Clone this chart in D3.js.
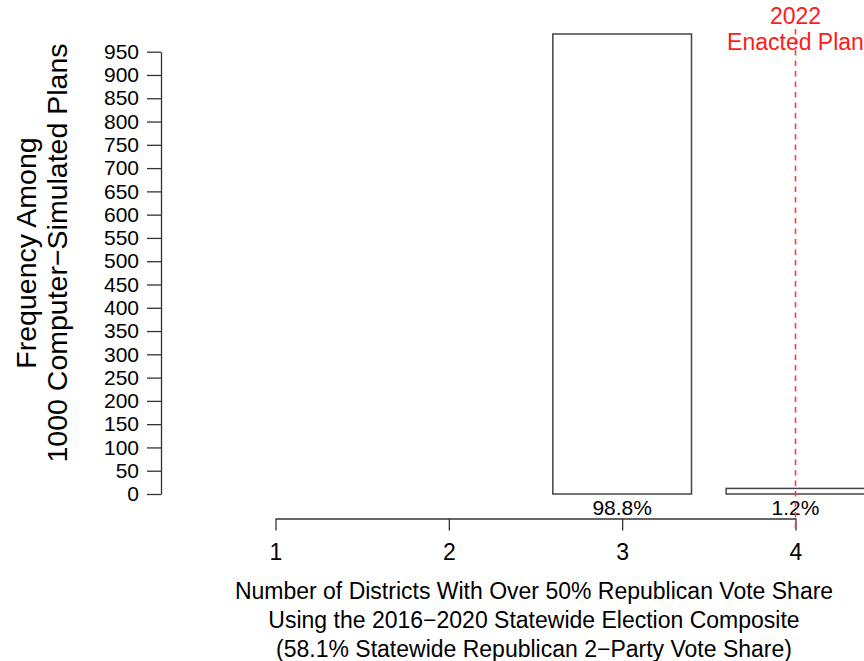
<!DOCTYPE html>
<html>
<head>
<meta charset="utf-8">
<script src="https://cdn.jsdelivr.net/npm/d3@7"></script>
<style>
  body { margin: 0; background: #fff; }
  svg { display: block; font-family: "Liberation Sans", Arial, sans-serif; }
</style>
</head>
<body>
<div id="chartContainer"></div>
<script>
// values
var districts = [1, 2, 3, 4];
var counts = [0, 0, 988, 12];
var totalPlans = 1000;
var yTicks = d3.range(0, 951, 50);
var enactedValue = 4;
var enactedLabel = ["2022", "Enacted Plan"];
var yTitle = ["Frequency Among", "1000 Computer\u2212Simulated Plans"];
var xTitle = [
  "Number of Districts With Over 50% Republican Vote Share",
  "Using the 2016\u22122020 Statewide Election Composite",
  "(58.1% Statewide Republican 2\u2212Party Vote Share)"
];

var WIDTH = 864, HEIGHT = 661;

var svg = d3.select("#chartContainer").append("svg")
  .attr("width", WIDTH)
  .attr("height", HEIGHT);

var xRange = d3.scaleLinear().domain([1, 4]).range([275.5, 795.5]);
var yRange = d3.scaleLinear().domain([0, 950]).range([494, 51.7]);

var bars = districts.map(function (d, i) {
  return { x: d, n: counts[i] };
}).filter(function (d) { return d.n > 0; });

// bars
svg.selectAll("rect.bar")
  .data(bars)
  .enter().append("rect")
  .attr("class", "bar")
  .attr("x", function (d) { return xRange(d.x - 0.4); })
  .attr("y", function (d) { return yRange(d.n); })
  .attr("width", function (d) { return xRange(d.x + 0.4) - xRange(d.x - 0.4); })
  .attr("height", function (d) { return yRange(0) - yRange(d.n); })
  .attr("fill", "#fff")
  .attr("stroke", "#444")
  .attr("stroke-width", 1.5);

// percent labels under bars
svg.selectAll("text.pct")
  .data(bars)
  .enter().append("text")
  .attr("class", "pct")
  .attr("x", function (d) { return xRange(d.x); })
  .attr("y", yRange(0) + 14)
  .attr("dy", "0.32em")
  .attr("text-anchor", "middle")
  .style("font-size", "21px")
  .text(function (d) { return (d.n / totalPlans * 100).toFixed(1) + "%"; });

// y axis
var yAxis = d3.axisLeft(yRange)
  .tickValues(yTicks)
  .tickFormat(d3.format("d"))
  .tickSize(14)
  .tickSizeOuter(0)
  .tickPadding(8);

var gy = svg.append("g")
  .attr("transform", "translate(161,0)")
  .call(yAxis);
gy.selectAll("text").style("font-size", "21px").attr("fill", "#000");
gy.selectAll("line, path").attr("stroke", "#333").attr("stroke-width", 1.3);

// x axis
var xAxis = d3.axisBottom(xRange)
  .tickValues(districts)
  .tickFormat(d3.format("d"))
  .tickSize(12)
  .tickSizeOuter(0)
  .tickPadding(13);

var gx = svg.append("g")
  .attr("transform", "translate(0,518.5)")
  .call(xAxis);
gx.selectAll("text").style("font-size", "23px").attr("fill", "#000");
gx.selectAll("line, path").attr("stroke", "#333").attr("stroke-width", 1.3);

// enacted plan marker
svg.append("line")
  .attr("x1", xRange(enactedValue))
  .attr("x2", xRange(enactedValue))
  .attr("y1", 29)
  .attr("y2", 531)
  .attr("stroke", "#ff3b3b")
  .attr("stroke-width", 1.6)
  .attr("stroke-dasharray", "5.5,5");

svg.selectAll("text.enacted")
  .data(enactedLabel)
  .enter().append("text")
  .attr("class", "enacted")
  .attr("x", xRange(enactedValue))
  .attr("y", function (d, i) { return 16 + i * 26; })
  .attr("dy", "0.35em")
  .attr("text-anchor", "middle")
  .style("font-size", "23px")
  .attr("fill", "#ff1a1a")
  .text(function (d) { return d; });

// y title
svg.selectAll("text.ytitle")
  .data(yTitle)
  .enter().append("text")
  .attr("class", "ytitle")
  .attr("transform", function (d, i) {
    return "translate(" + (26 + i * 31) + ",253) rotate(-90)";
  })
  .attr("dy", "0.35em")
  .attr("text-anchor", "middle")
  .style("font-size", "28.5px")
  .text(function (d) { return d; });

// x title
svg.selectAll("text.xtitle")
  .data(xTitle)
  .enter().append("text")
  .attr("class", "xtitle")
  .attr("x", 534)
  .attr("y", function (d, i) { return 591 + i * 29; })
  .attr("dy", "0.35em")
  .attr("text-anchor", "middle")
  .style("font-size", "23px")
  .text(function (d) { return d; });
</script>
</body>
</html>
